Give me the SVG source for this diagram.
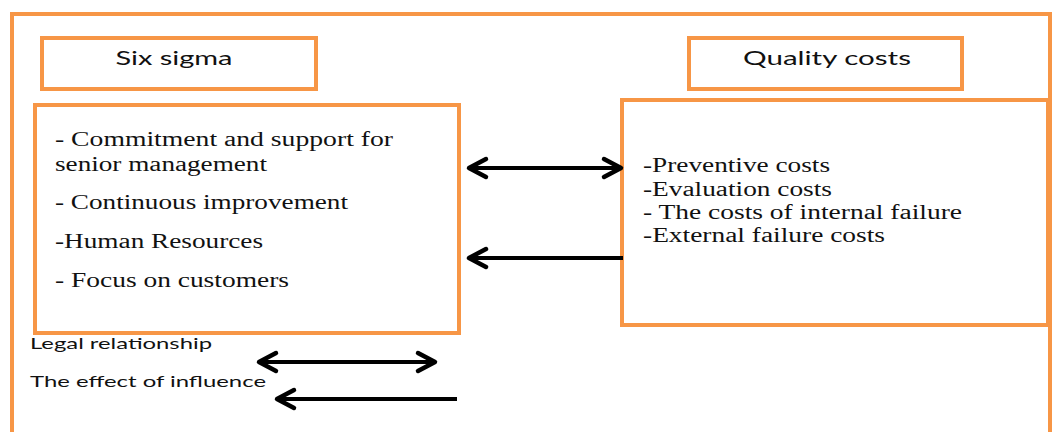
<svg xmlns="http://www.w3.org/2000/svg" width="1056" height="432" viewBox="0 0 1056 432">
<style>
.box{fill:#fff;stroke:#F79646;stroke-width:4}
.title{font-family:Lato,"Liberation Sans",sans-serif;font-size:20px;fill:#111;text-anchor:middle}
.body{font-family:"Liberation Serif",serif;font-size:20px;fill:#111}
.legend{font-family:Lato,"Liberation Sans",sans-serif;font-size:16px;fill:#111}
.conn{stroke:#000;stroke-width:4;fill:none}
</style>
<defs>
<marker id="arr" markerUnits="userSpaceOnUse" viewBox="-24 -14 28 28" markerWidth="28" markerHeight="28" refX="0" refY="0" orient="auto-start-reverse">
<path d="M -17 -9 L 0 0 L -17 9" fill="none" stroke="#000" stroke-width="4.5" stroke-linecap="round" stroke-linejoin="round"/>
</marker>
</defs>
<rect x="0" y="0" width="1056" height="432" fill="#fff"/>
<rect id="frame" x="12" y="14" width="1038" height="440" fill="none" stroke="#F79646" stroke-width="4"/>
<g id="six-sigma-title">
<rect class="box" x="42" y="38" width="274" height="51"/>
<text class="title" x="174" y="65" textLength="117" lengthAdjust="spacingAndGlyphs">Six sigma</text>
</g>
<g id="quality-costs-title">
<rect class="box" x="689" y="38" width="273" height="51"/>
<text class="title" x="827" y="65" textLength="168" lengthAdjust="spacingAndGlyphs">Quality costs</text>
</g>
<g id="six-sigma-box">
<rect class="box" x="35" y="105" width="424" height="228"/>
<text class="body" x="55" y="146" textLength="338" lengthAdjust="spacingAndGlyphs">- Commitment and support for</text>
<text class="body" x="55" y="171" textLength="212" lengthAdjust="spacingAndGlyphs">senior management</text>
<text class="body" x="55" y="209" textLength="293" lengthAdjust="spacingAndGlyphs">- Continuous improvement</text>
<text class="body" x="55" y="248" textLength="208" lengthAdjust="spacingAndGlyphs">-Human Resources</text>
<text class="body" x="55" y="287" textLength="234" lengthAdjust="spacingAndGlyphs">- Focus on customers</text>
</g>
<g id="quality-costs-box">
<rect class="box" x="622" y="100" width="426" height="225"/>
<text class="body" x="643" y="172" textLength="187" lengthAdjust="spacingAndGlyphs">-Preventive costs</text>
<text class="body" x="643" y="196" textLength="189" lengthAdjust="spacingAndGlyphs">-Evaluation costs</text>
<text class="body" x="643" y="219" textLength="319" lengthAdjust="spacingAndGlyphs">- The costs of internal failure</text>
<text class="body" x="643" y="242" textLength="242" lengthAdjust="spacingAndGlyphs">-External failure costs</text>
</g>
<g id="legend">
<text class="legend" x="30" y="349" textLength="182" lengthAdjust="spacingAndGlyphs">Legal relationship</text>
<text class="legend" x="30" y="387" textLength="236" lengthAdjust="spacingAndGlyphs">The effect of influence</text>
</g>
<g id="connectors">
<line class="conn" x1="469" y1="168" x2="621" y2="168" marker-start="url(#arr)" marker-end="url(#arr)"/>
<line class="conn" x1="623" y1="258" x2="469" y2="258" marker-end="url(#arr)"/>
<line class="conn" x1="259" y1="362" x2="435" y2="362" marker-start="url(#arr)" marker-end="url(#arr)"/>
<line class="conn" x1="457" y1="399" x2="277" y2="399" marker-end="url(#arr)"/>
</g>
</svg>
